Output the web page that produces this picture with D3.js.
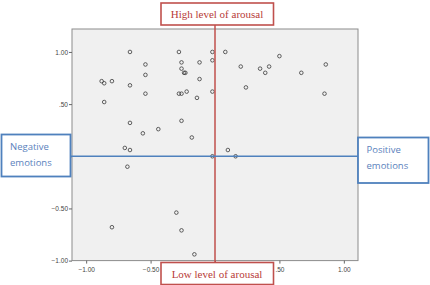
<!DOCTYPE html>
<html>
<head>
<meta charset="utf-8">
<script src="https://cdn.jsdelivr.net/npm/d3@7"></script>
<style>
  html, body { margin: 0; padding: 0; background: #fff; }
  svg { display: block; }
</style>
</head>
<body>
<svg id="chart"></svg>
<script>
// valence (x) and arousal (y) of each rated item
const valence = [
  -0.66, -0.28, -0.02, 0.08, -0.02, -0.54, -0.26, -0.12, -0.26, -0.24,
  -0.23, -0.54, -0.88, -0.86, -0.80, -0.66, -0.12, -0.54, -0.28, -0.26,
  -0.22, -0.02, -0.14, -0.86, -0.66, -0.26, -0.44, -0.56, -0.18, -0.70,
  -0.66, -0.02, 0.10, 0.16, -0.68, -0.30, -0.80, -0.26, -0.16, 0.50,
  0.20, 0.35, 0.39, 0.42, 0.67, 0.86, 0.24, 0.85
];
const arousal = [
  1.00, 1.00, 1.00, 1.00, 0.92, 0.88, 0.90, 0.90, 0.84, 0.80,
  0.80, 0.78, 0.72, 0.70, 0.72, 0.68, 0.74, 0.60, 0.60, 0.60,
  0.62, 0.62, 0.56, 0.52, 0.32, 0.34, 0.26, 0.22, 0.18, 0.08,
  0.06, 0.00, 0.06, 0.00, -0.10, -0.54, -0.68, -0.71, -0.94, 0.96,
  0.86, 0.84, 0.80, 0.86, 0.80, 0.88, 0.66, 0.60
];

const xTicks = [-1, -0.5, 0, 0.5, 1];
const yTicks = [-1, -0.5, 0, 0.5, 1];

const arousalLabels = ['High level of arousal', 'Low level of arousal'];
const emotionLabels = [['Negative', 'emotions'], ['Positive', 'emotions']];

const width = 430, height = 285;
const plot = { left: 72, right: 358, top: 29, bottom: 260.6 };

const svg = d3.select('#chart')
  .attr('width', width)
  .attr('height', height);

const x = d3.scaleLinear().domain([-1.11, 1.11]).range([plot.left, plot.right]);
const y = d3.scaleLinear().domain([-1, 1.22]).range([plot.bottom, plot.top]);

// SPSS style labels: ".50", "-1.00"; the zero label sits under the boxes
const fmt = d => d === 0 ? '' : d3.format('.2f')(d).replace(/^(-?)0\./, '$1.');

/** plot area */
svg.append('rect')
  .attr('x', plot.left)
  .attr('y', plot.top)
  .attr('width', plot.right - plot.left)
  .attr('height', plot.bottom - plot.top)
  .attr('fill', '#f0f0f0')
  .attr('stroke', '#8c8c8c')
  .attr('stroke-width', 1);

/** axes */
const xAxis = svg.append('g')
  .attr('transform', `translate(0,${plot.bottom})`)
  .call(d3.axisBottom(x).tickValues(xTicks).tickFormat(fmt).tickSize(3).tickSizeOuter(0));
const yAxis = svg.append('g')
  .attr('transform', `translate(${plot.left},0)`)
  .call(d3.axisLeft(y).tickValues(yTicks).tickFormat(fmt).tickSize(3).tickSizeOuter(0));

[xAxis, yAxis].forEach(g => {
  g.select('.domain').remove();
  g.selectAll('line').attr('stroke', '#666');
  g.selectAll('text')
    .attr('fill', '#444')
    .style('font-family', 'Liberation Sans, Arial, sans-serif')
    .style('font-size', '6.5px');
});
xAxis.selectAll('text').attr('dy', '0.9em');
yAxis.selectAll('text').attr('x', -4);

/** points */
svg.append('g')
  .selectAll('circle')
  .data(valence.map((v, i) => [v, arousal[i]]))
  .join('circle')
  .attr('cx', d => x(d[0]))
  .attr('cy', d => y(d[1]))
  .attr('r', 1.8)
  .attr('fill', 'none')
  .attr('stroke', '#3a3a3a')
  .attr('stroke-width', 0.8);

/** annotation lines */
const red = '#c0504d';
const blue = '#4f81bd';

svg.append('line')
  .attr('x1', x(0)).attr('x2', x(0))
  .attr('y1', 25).attr('y2', 262)
  .attr('stroke', red)
  .attr('stroke-width', 1.5);

svg.append('line')
  .attr('x1', 70).attr('x2', 358)
  .attr('y1', y(0)).attr('y2', y(0))
  .attr('stroke', blue)
  .attr('stroke-width', 1.5);

/** arousal boxes */
const arousalBoxes = [
  { y: 3, text: arousalLabels[0] },
  { y: 262.5, text: arousalLabels[1] }
];
arousalBoxes.forEach(b => {
  const g = svg.append('g');
  g.append('rect')
    .attr('x', 161).attr('y', b.y)
    .attr('width', 112.5).attr('height', 22)
    .attr('fill', '#fff')
    .attr('stroke', red)
    .attr('stroke-width', 1.6);
  g.append('text')
    .attr('x', 217).attr('y', b.y + 15)
    .attr('text-anchor', 'middle')
    .attr('fill', '#b83b38')
    .style('font-family', 'Liberation Serif, Times New Roman, serif')
    .style('font-size', '11px')
    .text(b.text);
});

/** emotion boxes */
const emotionBoxes = [
  { x: 1.5, y: 134.5, w: 69, h: 42, lines: emotionLabels[0] },
  { x: 358, y: 137.5, w: 70.5, h: 45.5, lines: emotionLabels[1] }
];
emotionBoxes.forEach(b => {
  const g = svg.append('g');
  g.append('rect')
    .attr('x', b.x).attr('y', b.y)
    .attr('width', b.w).attr('height', b.h)
    .attr('fill', '#fff')
    .attr('stroke', blue)
    .attr('stroke-width', 1.8);
  g.selectAll('text')
    .data(b.lines)
    .join('text')
    .attr('x', b.x + 8.5)
    .attr('y', (d, i) => b.y + 15.5 + i * 16)
    .attr('fill', '#5b82bd')
    .style('font-family', 'Open Sans, sans-serif')
    .style('font-size', '9.5px')
    .text(d => d);
});
</script>
</body>
</html>
